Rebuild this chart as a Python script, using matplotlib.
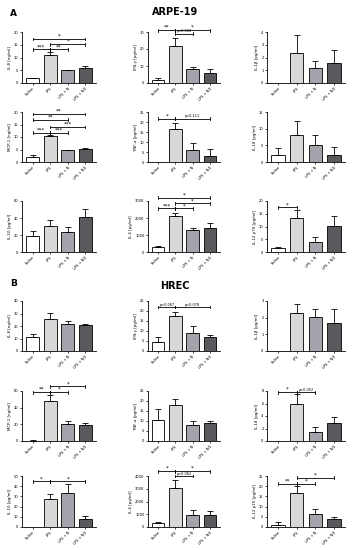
import matplotlib
matplotlib.use("Agg")
import matplotlib.pyplot as plt

groups = ["Saline", "LPS", "LPS + N", "LPS + ND"]
bar_colors = ["#ffffff", "#d8d8d8", "#a3a3ab", "#5a5a5e"]

# ARPE-19
a_labels = ["IL-8 [ng/ml]", "IFN-\u03b3 [pg/ml]", "IL-1\u03b2 [pg/ml]",
            "MCP-1 [ng/ml]", "TNF-\u03b1 [pg/ml]", "IL-18 [pg/ml]",
            "IL-10 [pg/ml]", "IL-6 [pg/ml]", "IL-12 p70 [pg/ml]"]
a_vals = [[1.8, 11.0, 5.0, 5.8], [1.6, 21.5, 8.5, 5.6], [0.0, 2.35, 1.15, 1.55],
          [2.2, 10.5, 4.7, 5.2], [0.0, 16.3, 6.1, 3.1], [2.0, 8.1, 5.1, 2.2],
          [18.5, 31.0, 23.7, 41.5], [300, 2130, 1280, 1420], [1.6, 13.2, 4.0, 10.1]]
a_errs = [[0.2, 1.3, 0.2, 0.9], [1.1, 5.0, 0.8, 2.6], [0.0, 1.45, 0.6, 1.0],
          [0.5, 0.5, 0.2, 0.3], [0.0, 3.4, 3.3, 3.3], [2.2, 4.3, 3.0, 2.3],
          [6.5, 7.0, 5.3, 9.5], [60, 150, 140, 260], [0.2, 3.2, 1.9, 4.1]]
a_ylims = [20, 30, 4, 20, 25, 15, 60, 3000, 20]
a_ysteps = [5, 10, 1, 5, 5, 5, 20, 1000, 5]
a_sig = [
    [(0, 3, 17.3, "*"), (1, 3, 15.2, "*"), (0, 1, 13.2, "***"), (1, 2, 13.2, "**")],
    [(0, 1, 31.0, "**"), (1, 3, 31.0, "*"), (1, 2, 29.0, "p=0.068")],
    [],
    [(0, 3, 19.3, "**"), (0, 2, 17.0, "**"), (1, 3, 14.1, "***"), (0, 1, 11.8, "***"), (1, 2, 11.8, "***")],
    [(0, 1, 21.7, "*"), (1, 3, 21.7, "p=0.111")],
    [],
    [],
    [(0, 3, 3200, "*"), (1, 3, 2860, "*"), (0, 1, 2560, "***"), (1, 2, 2560, "*")],
    [(0, 1, 17.5, "*")],
]

# HREC
b_labels = ["IL-8 [ng/ml]", "IFN-\u03b3 [pg/ml]", "IL-1\u03b2 [pg/ml]",
            "MCP-1 [ng/ml]", "TNF-\u03b1 [pg/ml]", "IL-18 [pg/ml]",
            "IL-10 [pg/ml]", "IL-6 [pg/ml]", "IL-12 p70 [pg/ml]"]
b_vals = [[11.6, 25.3, 22.0, 20.5], [4.4, 17.4, 8.9, 7.1], [0.0, 2.3, 2.05, 1.7],
          [0.6, 47.6, 20.6, 19.8], [10.3, 17.9, 7.9, 9.1], [0.0, 5.9, 1.5, 2.9],
          [0.0, 27.6, 33.2, 7.9], [316, 3030, 970, 920], [1.15, 16.6, 6.6, 3.8]]
b_errs = [[2.1, 5.2, 2.0, 1.1], [2.8, 2.2, 3.6, 0.8], [0.0, 0.5, 0.45, 0.85],
          [0.2, 7.9, 4.0, 2.0], [5.6, 3.0, 2.2, 0.8], [0.0, 1.6, 0.8, 1.0],
          [0.0, 5.0, 8.6, 3.0], [54, 680, 400, 340], [1.35, 3.3, 2.0, 1.3]]
b_ylims = [40, 25, 3, 60, 25, 8, 50, 4000, 25]
b_ysteps = [10, 5, 1, 20, 5, 2, 10, 1000, 5]
b_sig = [
    [],
    [(0, 1, 22.0, "p=0.067"), (1, 3, 22.0, "p=0.078")],
    [],
    [(1, 3, 65.5, "*"), (0, 1, 58.5, "**"), (1, 2, 58.5, "*")],
    [],
    [(0, 1, 7.8, "*"), (1, 2, 7.8, "p=0.052")],
    [(0, 1, 44.7, "*"), (1, 3, 44.7, "*")],
    [(0, 1, 4370, "*"), (1, 3, 4370, "*"), (1, 2, 4000, "p=0.062")],
    [(1, 3, 24.2, "*"), (0, 1, 21.2, "**"), (1, 2, 21.2, "*")],
]

W, H = 360, 550
fig = plt.figure(figsize=(W / 100, H / 100), dpi=100)
fig.patch.set_facecolor("white")

col_x = [(22, 96), (148, 220), (267, 345)]
rows_a = [(32, 83), (112, 162), (201, 252)]
rows_b = [(301, 351), (391, 441), (476, 527)]


def draw_panel(rect, vals, errs, ylab, ymax, ystep, sigs):
    (x0, x1), (y0, y1) = rect
    ax = fig.add_axes([x0 / W, 1 - y1 / H, (x1 - x0) / W, (y1 - y0) / H])
    xs = list(range(len(groups)))
    ax.bar(xs, vals, width=0.72, color=bar_colors, edgecolor="black", linewidth=0.6, zorder=2)
    for x, v, e in zip(xs, vals, errs):
        if e > 0:
            ax.errorbar(x, v, yerr=[[0], [e]], fmt="none", ecolor="black",
                        elinewidth=0.6, capsize=2.2, capthick=0.6, zorder=3)
    ax.set_xlim(-0.6, 3.6)
    ax.set_ylim(0, ymax)
    ticks = [i * ystep for i in range(int(round(ymax / ystep)) + 1)]
    ax.set_yticks(ticks)
    ax.set_yticklabels([f"{t:g}" for t in ticks], fontsize=2.6)
    ax.set_xticks(xs)
    ax.set_xticklabels(groups, rotation=45, ha="right", rotation_mode="anchor", fontsize=2.6)
    ax.set_ylabel(ylab, fontsize=2.8, labelpad=1.5)
    for s in ("top", "right"):
        ax.spines[s].set_visible(False)
    for s in ("left", "bottom"):
        ax.spines[s].set_linewidth(0.6)
    ax.tick_params(axis="both", length=1.5, width=0.5, pad=1)
    tick_h = ymax * 0.025
    for (a, b, y, lab) in sigs:
        ax.plot([a, b], [y, y], color="black", lw=0.6, clip_on=False, zorder=4)
        ax.plot([a, a], [y - tick_h, y + tick_h], color="black", lw=0.6, clip_on=False, zorder=4)
        ax.plot([b, b], [y - tick_h, y + tick_h], color="black", lw=0.6, clip_on=False, zorder=4)
        fs = 2.5 if lab.startswith("p") else 4
        ax.text((a + b) / 2, y + ymax * 0.005, lab, ha="center", va="bottom",
                fontsize=fs, clip_on=False)
    return ax


for i in range(9):
    r, c = divmod(i, 3)
    draw_panel((col_x[c], rows_a[r]), a_vals[i], a_errs[i], a_labels[i],
               a_ylims[i], a_ysteps[i], a_sig[i])
    draw_panel((col_x[c], rows_b[r]), b_vals[i], b_errs[i], b_labels[i],
               b_ylims[i], b_ysteps[i], b_sig[i])

fig.text(10 / W, 1 - 13 / H, "A", fontsize=6.5, fontweight="bold", va="center", ha="left")
fig.text(175 / W, 1 - 12 / H, "ARPE-19", fontsize=7, fontweight="bold", va="center", ha="center")
fig.text(10 / W, 1 - 284 / H, "B", fontsize=6.5, fontweight="bold", va="center", ha="left")
fig.text(175 / W, 1 - 286 / H, "HREC", fontsize=7, fontweight="bold", va="center", ha="center")

fig.savefig("out.png", dpi=100, facecolor="white")
